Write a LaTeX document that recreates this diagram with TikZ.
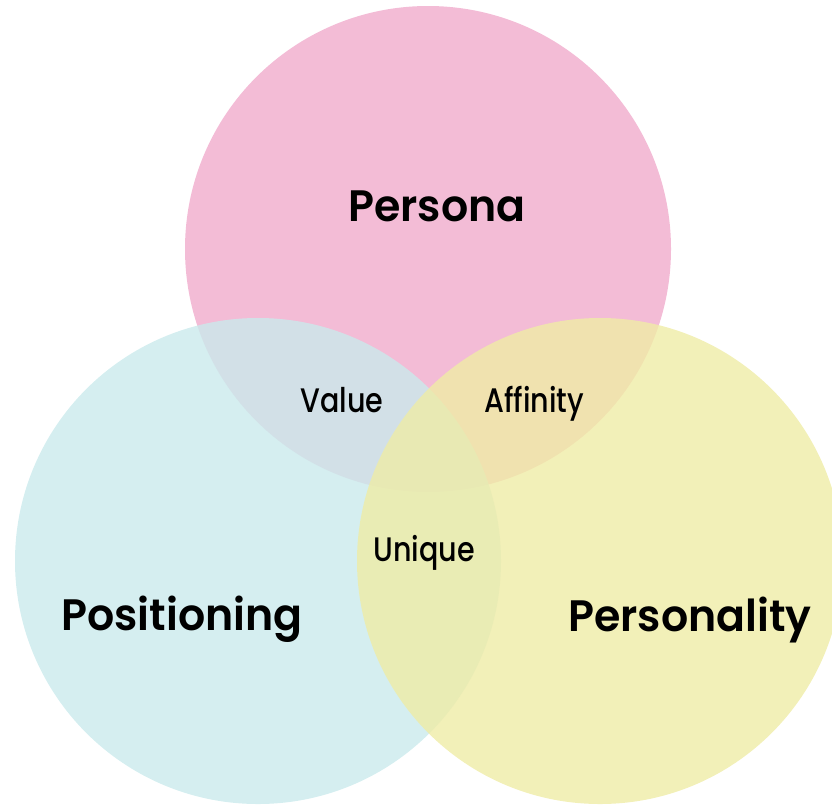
\documentclass[tikz,border=0pt]{standalone}
\usepackage{fontspec}
\newfontfamily\setfont[FakeStretch=0.97]{Poppins SemiBold}
\newfontfamily\meetfont[FakeStretch=0.84]{Poppins Medium}

\definecolor{personapink}{RGB}{240,171,204}
\definecolor{positionblue}{RGB}{202,234,236}
\definecolor{personalityyellow}{RGB}{239,236,166}

\tikzset{
  venn/.style={circle, minimum size=486pt, inner sep=0pt, fill opacity=0.8},
  setlabel/.style={font=\setfont\fontsize{44}{44}\selectfont, anchor=base},
  meetlabel/.style={font=\meetfont\fontsize{34}{34}\selectfont, anchor=base}
}

\begin{document}
\begin{tikzpicture}[x=1pt, y=-1pt]
      \useasboundingbox (0, 0) rectangle (832, 804);
      \clip (0, 0) rectangle (832, 804);
      % the three sets, drawn back to front
      \node[venn, fill=personapink] (persona) at (428, 249) {};
      \node[venn, fill=positionblue] (positioning) at (258, 561) {};
      \node[venn, fill=personalityyellow] (personality) at (600, 561) {};
      % set names
      \node[setlabel] (personaname) at (437, 221) {Persona};
      \node[setlabel] (positioningname) at (182, 630) {Positioning};
      \node[setlabel] (personalityname) at (690, 631) {Personality};
      % where they meet
      \node[meetlabel] (value) at (342, 412) {Value};
      \node[meetlabel] (affinity) at (534, 412) {Affinity};
      \node[meetlabel] (unique) at (424, 561) {Unique};
\end{tikzpicture}
\end{document}
